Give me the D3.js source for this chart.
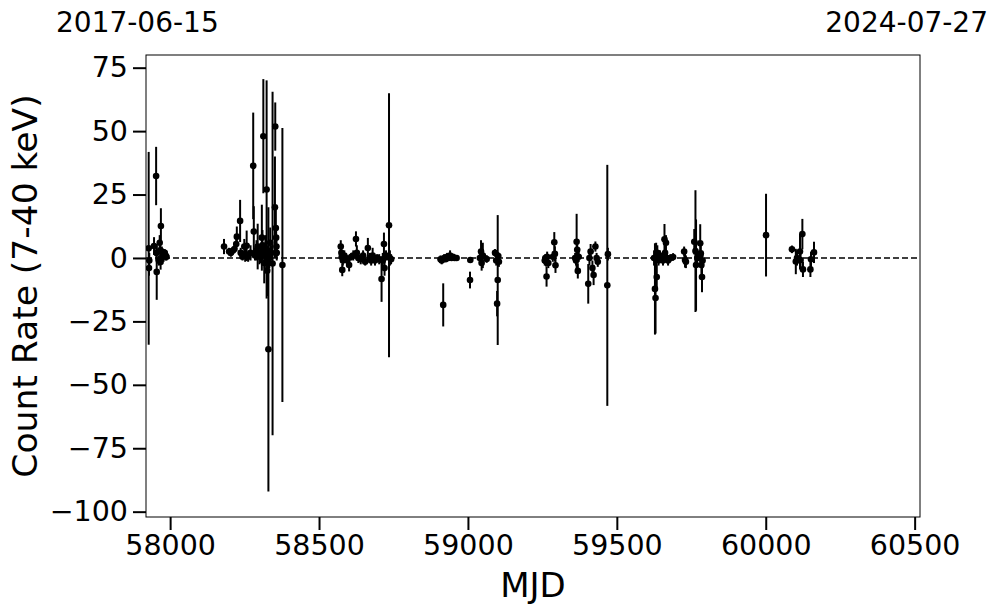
<!DOCTYPE html>
<html>
<head>
<meta charset="utf-8">
<script src="https://cdn.jsdelivr.net/npm/d3@7"></script>
<style>
  html, body { margin: 0; padding: 0; background: #fff; }
  svg { display: block; }
  text { font-family: "DejaVu Sans", sans-serif; fill: #000; }
</style>
</head>
<body>
<svg id="chart" width="997" height="613"></svg>
<script>
// ---- data (MJD, count rate, 1-sigma error) ----
const mjd = [
  57928, 57930, 57929, 57946, 57953, 57954, 57955, 57965, 57969, 57967, 57968, 57972, 57975, 57978, 57982, 57985, 57988, 57962,
  58181, 58198, 58204, 58210, 58216, 58222, 58224, 58235, 58237, 58243, 58249, 58252, 58257, 58262, 58270, 58279, 58281, 58285,
  58290, 58294, 58300, 58305, 58308, 58310, 58313, 58316, 58318, 58320, 58324, 58326, 58330, 58333, 58336, 58340, 58344, 58353,
  58352, 58355, 58356, 58357, 58358, 58377,
  58573, 58575, 58576, 58578, 58580, 58585, 58590, 58595, 58601, 58608, 58615, 58624, 58627, 58632, 58640, 58648, 58655, 58664,
  58670, 58675, 58680, 58688, 58695, 58702, 58710, 58714, 58718, 58720, 58725, 58735, 58738, 58742,
  58917, 58908, 58912, 58920, 58925, 58930, 58935, 58940, 58945, 58950, 58955, 58962,
  59007, 59008, 59040, 59044, 59046, 59050, 59063, 59091, 59095, 59098, 59100, 59102, 59104,
  59258, 59260, 59262, 59264, 59266, 59270, 59285, 59290, 59292, 59294,
  59360, 59363, 59365, 59367, 59369, 59372, 59404, 59408, 59412, 59418, 59422, 59428, 59432, 59436,
  59468, 59470,
  59625, 59628, 59630, 59632, 59634, 59636, 59640, 59645, 59650, 59655, 59660, 59662, 59665, 59668, 59672, 59680, 59689,
  59726, 59729, 59732, 59760, 59764, 59766, 59770, 59780, 59782, 59784, 59786, 59788,
  60001, 60088, 60101, 60105, 60115, 60117, 60123, 60125, 60152, 60150, 60162
];
const rate = [
  3.8, -1, -4, 4.7, 32.3, 2, -5.5, 6, 12.6, 3, -1.6, 2.5, 1, 0.5, 2, 1, 0.5, -1,
  4.5, 2.5, 2.0, 2.8, 3.5, 5.5, 8.4, 14.6, 2, 0.5, 4.5, 1.5, 4.8, 0.5, 2, 36.3, 10.4, 1,
  3, 4.5, 0.5, 2, 8, 5, 48, -2, 1, 3, 27, -5, -36, 0, 6, 2, -2.2, 51.8,
  20, 11.8, 8, 4.5, 2, -2.8,
  4.5, 2, 0.4, -4.7, -1, 1, 0, -1, -2.8, 0.5, 1, 7.5, 2, 0, -0.5, 1, -1.5, 3.9,
  0, -1, 1, -1, 0, -0.5, -8.3, -1, 5.5, -4, 1, 12.9, 0, -0.5,
  -18.5, -0.5, -1, 0, -0.5, 0.5, 0, 1, 0, 0.5, 0, 0,
  -8.7, -0.8, 0, 2.5, -2, 1, -0.4, 2, -1, -18, -8.7, 0.8, -1.5,
  -1, 0, -1.3, -7.3, 0.5, -2, 0.5, 6.2, 1.6, -2.9,
  0, -1, 6.4, 3.2, -5.1, 0.5, -10.2, 0, 2.5, -4, -6.7, 4.5, 0, -1.5,
  -10.8, 1.5,
  0, -12.2, -15.8, 0, -7.5, 2, -1, 1, 0, -1, 7.4, 2, 6, 0, -1, 0, 0.4,
  2.5, -0.8, -1.5, 6.4, 2.7, -2.8, 0, 5.8, 1.8, -2.8, -7.5, -1,
  9, 3.4, -1.4, 0, 2.5, -0.8, 9.4, -4.5, -0.5, -4.5, 2.2
];
const err = [
  38, 3, 3, 3.5, 11.5, 3, 11, 3, 7, 4, 3, 2, 2, 2, 1.5, 2, 1.5, 2,
  3, 1.5, 1.5, 1.5, 1.5, 2, 4, 8.3, 2, 1.5, 3, 3, 6, 2, 3, 21, 10, 2,
  4, 9, 3, 4, 13, 6, 22.5, 8, 5, 6, 43, 10, 56, 4, 6, 3, 67.7, 9.5,
  20, 8, 5, 4, 3, 54,
  2.5, 2, 2, 2.5, 2, 2, 1.5, 1.5, 2.5, 1.5, 2, 3, 3, 2, 2, 2, 1.5, 4,
  2, 2, 3, 2, 1.5, 2, 9, 3, 4.5, 3, 2, 52, 3, 2,
  8.5, 1.5, 1.5, 1.5, 1, 1.5, 1, 2, 1, 1, 1, 1,
  3.3, 1, 2, 4.5, 3, 5, 1.5, 1.5, 2, 5, 25.6, 1.5, 2,
  2, 1.5, 2, 4, 2, 2, 2, 4, 3, 3,
  2, 2, 11, 3, 3, 2, 7.8, 3, 3, 3, 4, 2, 2, 2,
  47.5, 2.5,
  3, 18, 14, 6, 5, 3, 2, 2, 2, 2, 6, 3, 3, 2, 2, 1.5, 1.5,
  2, 3, 2.5, 5, 24, 18, 3, 7.5, 4, 5, 6, 3,
  16.3, 1.5, 5, 3, 7, 3, 6, 3, 3, 3, 4.2
];
const xTicks = [58000, 58500, 59000, 59500, 60000, 60500];
const yTicks = [-100, -75, -50, -25, 0, 25, 50, 75];
const dateLabels = ["2017-06-15", "2024-07-27"];
const xDomain = [57919, 60518];
const yDomain = [-102.1, 80];

// ---- layout ----
const L = 146, R = 920, T = 55, B = 517;
const svg = d3.select("#chart");
const x = d3.scaleLinear().domain(xDomain).range([L, R]);
const y = d3.scaleLinear().domain(yDomain).range([B, T]);

const pts = mjd.map((m, i) => ({ m, r: rate[i], e: err[i] }));

// zero line
svg.append("line")
  .attr("x1", L).attr("x2", R)
  .attr("y1", y(0)).attr("y2", y(0))
  .attr("stroke", "#000").attr("stroke-width", 1.5)
  .attr("stroke-dasharray", "6,3");

// error bars
const clipId = "plotclip";
svg.append("clipPath").attr("id", clipId)
  .append("rect").attr("x", L).attr("y", T).attr("width", R - L).attr("height", B - T);

const g = svg.append("g").attr("clip-path", `url(#${clipId})`);
g.selectAll("line.eb").data(pts).join("line")
  .attr("class", "eb")
  .attr("x1", d => x(d.m)).attr("x2", d => x(d.m))
  .attr("y1", d => y(d.r + d.e)).attr("y2", d => y(d.r - d.e))
  .attr("stroke", "#000").attr("stroke-width", 2);
g.selectAll("circle").data(pts).join("circle")
  .attr("cx", d => x(d.m)).attr("cy", d => y(d.r))
  .attr("r", 3.3).attr("fill", "#000");

// frame
svg.append("rect")
  .attr("x", L).attr("y", T).attr("width", R - L).attr("height", B - T)
  .attr("fill", "none").attr("stroke", "#000").attr("stroke-width", 1);

// axes
const fmt = d => d < 0 ? "\u2212" + Math.abs(d) : String(d);
const xAxis = d3.axisBottom(x).tickValues(xTicks).tickSize(13).tickPadding(5).tickFormat(d => String(d));
const gx = svg.append("g").attr("transform", `translate(0,${B})`).call(xAxis);
const yAxis = d3.axisLeft(y).tickValues(yTicks).tickSize(13).tickPadding(5).tickFormat(fmt);
const gy = svg.append("g").attr("transform", `translate(${L},0)`).call(yAxis);
[gx, gy].forEach(ax => {
  ax.select(".domain").remove();
  ax.selectAll(".tick line").attr("stroke", "#000").attr("stroke-width", 2);
  ax.selectAll(".tick text").attr("fill", "#000")
    .style("font-family", "'DejaVu Sans', sans-serif").style("font-size", "28.5px");
});

// axis labels
svg.append("text")
  .attr("x", (L + R) / 2).attr("y", 597)
  .attr("text-anchor", "middle")
  .style("font-size", "34px")
  .text("MJD");
svg.append("text")
  .attr("transform", `translate(37,${(T + B) / 2}) rotate(-90)`)
  .attr("text-anchor", "middle")
  .style("font-size", "34.5px")
  .text("Count Rate (7-40 keV)");

// date labels
svg.append("text").attr("x", 56).attr("y", 32).style("font-size", "28px").text(dateLabels[0]);
svg.append("text").attr("x", 988).attr("y", 32).attr("text-anchor", "end").style("font-size", "28px").text(dateLabels[1]);
</script>
</body>
</html>
